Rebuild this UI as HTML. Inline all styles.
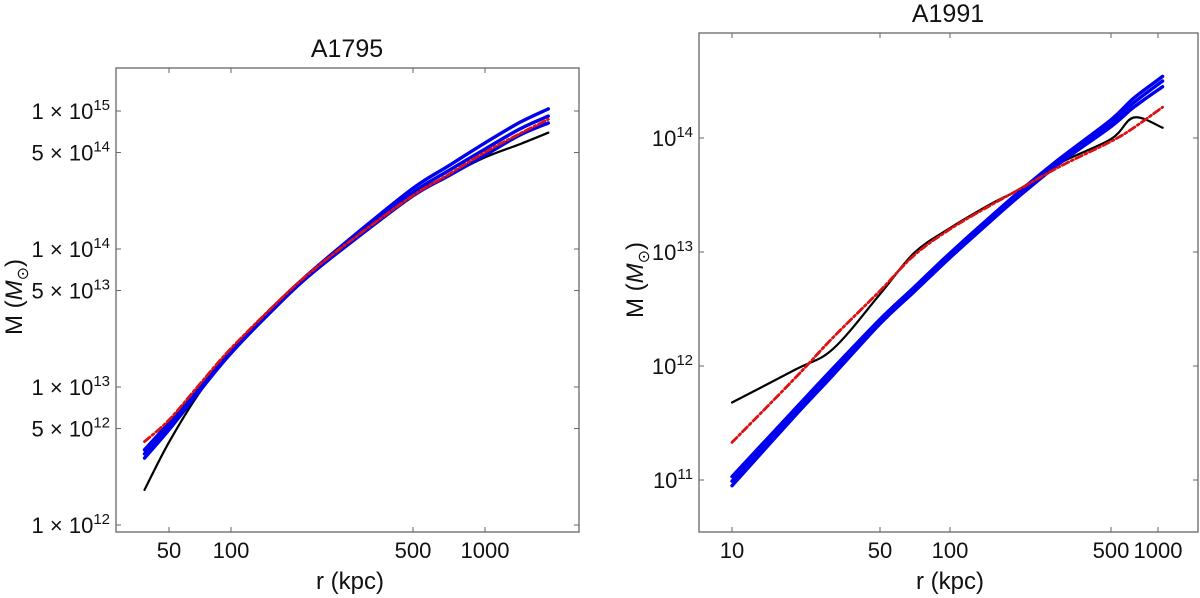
<!DOCTYPE html>
<html><head><meta charset="utf-8"><style>
html,body{margin:0;padding:0;background:#fff;}
svg{display:block;font-family:"Liberation Sans",sans-serif;}
</style></head><body>
<svg id="chart" width="1200" height="598" viewBox="0 0 1200 598"></svg>
<script>
// ---- A1795 data (r in kpc, log10 M in Msun) ----
const rLeft = [38, 50, 70, 100, 150, 200, 300, 500, 700, 1000, 1400, 1840];
const leftBlueMid = [12.515, 12.715, 12.980, 13.255, 13.595, 13.815, 14.090, 14.410, 14.565, 14.724, 14.870, 14.963];
const leftBlueUp  = [12.545, 12.740, 12.995, 13.265, 13.605, 13.825, 14.105, 14.440, 14.600, 14.769, 14.918, 15.015];
const leftBlueLow = [12.485, 12.690, 12.965, 13.245, 13.588, 13.808, 14.072, 14.385, 14.528, 14.680, 14.826, 14.913];
const leftBlack = [12.254, 12.600, 12.955, 13.250, 13.592, 13.812, 14.080, 14.395, 14.530, 14.664, 14.760, 14.843];
const leftRed   = [12.604, 12.761, 13.015, 13.280, 13.610, 13.825, 14.085, 14.388, 14.537, 14.701, 14.836, 14.940];
const leftXTicks = [50, 100, 500, 1000];
const leftYTicks = ["1 × 10|15|15", "5 × 10|14|14.699", "1 × 10|14|14", "5 × 10|13|13.699", "1 × 10|13|13", "5 × 10|12|12.699", "1 × 10|12|12"];
// ---- A1991 data ----
const rRight = [10, 20, 30, 50, 70, 100, 150, 200, 300, 500, 700, 1070];
const rightBlueMid = [10.99, 11.60, 11.95, 12.39, 12.67, 12.97, 13.29, 13.51, 13.80, 14.13, 14.31, 14.50];
const rightBlueUp  = [11.03, 11.63, 11.98, 12.41, 12.69, 12.99, 13.31, 13.53, 13.82, 14.16, 14.35, 14.54];
const rightBlueLow = [10.95, 11.57, 11.92, 12.37, 12.65, 12.95, 13.27, 13.49, 13.78, 14.10, 14.27, 14.45];
const rightBlack = [11.68, 11.97, 12.15, 12.63, 12.99, 13.21, 13.42, 13.55, 13.78, 13.99, 14.18, 14.09];
const rightRed   = [11.33, 11.90, 12.25, 12.66, 12.97, 13.20, 13.41, 13.55, 13.75, 13.97, 14.09, 14.27];
const rightXTicks = [10, 50, 100, 500, 1000];
const rightYTicks = [14, 13, 12, 11];

const NS = "http://www.w3.org/2000/svg";
const svg = document.getElementById("chart");
function mk(tag, attrs, parent){
  const e = document.createElementNS(NS, tag);
  for (const k in attrs) e.setAttribute(k, attrs[k]);
  (parent||svg).appendChild(e); return e;
}
function pwScale(kv, kp){
  return function(v){
    const l = Math.log10(v); const lk = kv.map(Math.log10);
    let i = 0; while (i < lk.length-2 && l > lk[i+1]) i++;
    return kp[i] + (l-lk[i])*(kp[i+1]-kp[i])/(lk[i+1]-lk[i]);
  };
}
const xL = pwScale([50,100,500,1000],[169,231,413,485]);
const yL = lm => 525 - (lm-12)*138;
const xR = pwScale([10,50,100,500,1000],[732,880,950,1111,1158]);
const yR = lm => 138 + (14-lm)*114;

function path(rs, vals, xs, ys){
  const p = rs.map((r,i)=>[xs(r), ys(vals[i])]);
  let d = "M"+p[0][0].toFixed(1)+","+p[0][1].toFixed(1);
  for (let i=0;i<p.length-1;i++){
    const p0=p[Math.max(0,i-1)], p1=p[i], p2=p[i+1], p3=p[Math.min(p.length-1,i+2)];
    const c1=[p1[0]+(p2[0]-p0[0])/6, p1[1]+(p2[1]-p0[1])/6];
    const c2=[p2[0]-(p3[0]-p1[0])/6, p2[1]-(p3[1]-p1[1])/6];
    d += " C"+c1.map(v=>v.toFixed(1)).join(",")+" "+c2.map(v=>v.toFixed(1)).join(",")+" "+p2[0].toFixed(1)+","+p2[1].toFixed(1);
  }
  return d;
}
function panel(cfg){
  const g = mk("g",{});
  
  
  const f = cfg.frame;
  const clipId = cfg.name+"-clip";
  const cp = mk("clipPath",{id:clipId}, g);
  mk("rect",{x:f[0],y:f[1],width:f[2]-f[0],height:f[3]-f[1]}, cp);
  const fr = mk("rect",{x:f[0],y:f[1],width:f[2]-f[0],height:f[3]-f[1],fill:"none",stroke:"#666","stroke-width":1.3}, g);
  
  
  cfg.xt.forEach(t=>{
    const x = cfg.xs(t);
    mk("line",{x1:x,x2:x,y1:f[3],y2:f[3]-5,stroke:"#666"},g);
    mk("line",{x1:x,x2:x,y1:f[1],y2:f[1]+5,stroke:"#666"},g);
    const tx = mk("text",{x:x,y:558,"text-anchor":"middle","font-size":22,fill:"#111"},g);
    tx.textContent = t;
    
    
  });
  cfg.yt.forEach(t=>{
    const y = cfg.ys(t.v);
    mk("line",{x1:f[0],x2:f[0]+5,y1:y,y2:y,stroke:"#666"},g);
    mk("line",{x1:f[2],x2:f[2]-5,y1:y,y2:y,stroke:"#666"},g);
    const tx = mk("text",{x:cfg.ytx,y:y+8,"text-anchor":"end","font-size":22,fill:"#111"},g);
    
    
    const a = document.createElementNS(NS,"tspan"); a.textContent = t.base; tx.appendChild(a);
    const b = document.createElementNS(NS,"tspan"); b.setAttribute("dy",-9); b.setAttribute("font-size",15); b.textContent = t.exp; tx.appendChild(b);
  });
  const cg = mk("g",{"clip-path":"url(#"+clipId+")",fill:"none"},g);
  const series = [
    [cfg.black,"#000",2.2,null,"black-curve"],
    [cfg.bl,"#0000ee",3.4,null,"blue-curve-lower"],
    [cfg.bm,"#0000ee",3.4,null,"blue-curve-mid"],
    [cfg.bu,"#0000ee",3.4,null,"blue-curve-upper"],
    [cfg.red,"#dd1111",2.8,"7,3,2,3","red-dashdot-curve"]
  ];
  series.forEach(s=>{
    const p = mk("path",{d:path(cfg.r,s[0],cfg.xs,cfg.ys),stroke:s[1],"stroke-width":s[2],"stroke-linecap":"round"},cg);
    if (s[3]) p.setAttribute("stroke-dasharray",s[3]);
    
    
  });
  const ti = mk("text",{x:cfg.title[1],y:cfg.title[2],"text-anchor":"middle","font-size":25,fill:"#111"},g);
  ti.textContent = cfg.title[0];
  
  
  const xl = mk("text",{x:cfg.xlab[0],y:cfg.xlab[1],"text-anchor":"middle","font-size":24,fill:"#111"},g);
  xl.textContent = "r (kpc)";
  
  
  const yl = mk("text",{x:0,y:0,"text-anchor":"middle","font-size":24,fill:"#111",transform:"translate("+cfg.ylab[0]+","+cfg.ylab[1]+") rotate(-90)"},g);
  
  
  const t1 = document.createElementNS(NS,"tspan"); t1.textContent = "M ("; yl.appendChild(t1);
  const t2 = document.createElementNS(NS,"tspan"); t2.setAttribute("font-style","italic"); t2.textContent = "M"; yl.appendChild(t2);
  const t3 = document.createElementNS(NS,"tspan"); t3.setAttribute("dy",6); t3.setAttribute("font-size",16); t3.textContent = "⊙"; yl.appendChild(t3);
  const t4 = document.createElementNS(NS,"tspan"); t4.setAttribute("dy",-6); t4.textContent = ")"; yl.appendChild(t4);
}
panel({name:"panel-a1795", frame:[116,68,579,532], xs:xL, ys:yL, r:rLeft, ytx:110,
  xt:leftXTicks,
  yt:leftYTicks.map(s=>{const p=s.split("|");return {base:p[0],exp:p[1],v:+p[2]};}),
  black:leftBlack, bl:leftBlueLow, bm:leftBlueMid, bu:leftBlueUp, red:leftRed,
  title:["A1795",347,57], xlab:[350,589], ylab:[22,297]});
panel({name:"panel-a1991", frame:[699,33,1198,532], xs:xR, ys:yR, r:rRight, ytx:693,
  xt:rightXTicks,
  yt:rightYTicks.map(v=>({base:"10",exp:String(v),v:v})),
  black:rightBlack, bl:rightBlueLow, bm:rightBlueMid, bu:rightBlueUp, red:rightRed,
  title:["A1991",948,22], xlab:[950,589], ylab:[643,280]});
</script>
</body></html>
